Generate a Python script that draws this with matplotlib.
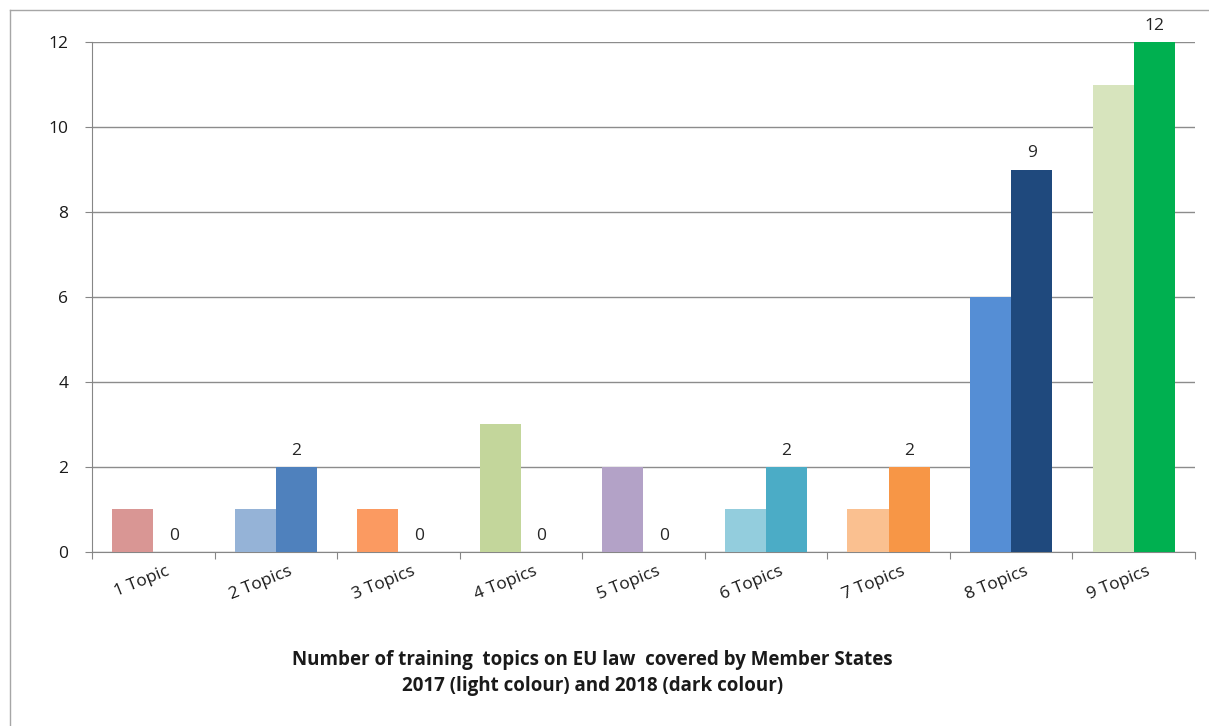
import numpy as np
import matplotlib
matplotlib.use("Agg")
import matplotlib.pyplot as plt
from matplotlib.lines import Line2D
from matplotlib.transforms import ScaledTranslation

plt.rcParams['font.family'] = ['Open Sans', 'DejaVu Sans']

categories = ['1 Topic', '2 Topics', '3 Topics', '4 Topics', '5 Topics',
              '6 Topics', '7 Topics', '8 Topics', '9 Topics']
values_2017 = [1, 1, 1, 3, 2, 1, 1, 6, 11]
values_2018 = [0, 2, 0, 0, 0, 2, 2, 9, 12]
colors_2017 = ['#D99694', '#95B3D7', '#FB9A61', '#C3D69B', '#B3A2C7',
               '#93CDDD', '#FAC090', '#558ED5', '#D7E4BD']
colors_2018 = ['#C0504D', '#4F81BD', '#F79646', '#9BBB59', '#8064A2',
               '#4BACC6', '#F79646', '#1F497D', '#00B050']

fig = plt.figure(figsize=(12.09, 7.26), dpi=100)
ax = fig.add_axes([0.0761, 0.2397, 0.9122, 0.7024])

x = np.arange(len(categories))
w = 0.335
ax.bar(x - w / 2, values_2017, w, color=colors_2017, zorder=3)
bars = ax.bar(x + w / 2, values_2018, w, color=colors_2018, zorder=3)

for b, v in zip(bars, values_2018):
    ax.annotate(str(v), (b.get_x() + b.get_width() / 2, v),
                xytext=(0, 6), textcoords='offset points',
                ha='center', va='bottom', fontsize=12.5, color='#262626',
                annotation_clip=False)

ax.set_xlim(-0.5, len(categories) - 0.5)
ax.set_ylim(0, 12)
ax.set_yticks(range(0, 13, 2))
ax.yaxis.grid(True, color='#8c8c8c', linewidth=1, zorder=0)
ax.set_axisbelow(True)

ax.set_xticks(np.arange(-0.5, len(categories)), minor=False)
ax.set_xticklabels([])
ax.set_xticks(x, minor=True)
ax.set_xticklabels(categories, minor=True, rotation=22, ha='right',
                   rotation_mode='anchor', fontsize=12.5, color='#1a1a1a')
ax.tick_params(axis='x', which='major', length=5, color='#868686', direction='out')
ax.tick_params(axis='x', which='minor', length=0, pad=8)
ax.tick_params(axis='y', length=5, color='#868686', labelsize=12.5,
               labelcolor='#1a1a1a', pad=12)
offset = ScaledTranslation(13 / 100, 0, fig.dpi_scale_trans)
for lab in ax.xaxis.get_minorticklabels():
    lab.set_transform(lab.get_transform() + offset)

for s in ['top', 'right']:
    ax.spines[s].set_visible(False)
ax.spines['left'].set_color('#868686')
ax.spines['bottom'].set_color('#868686')

fig.text(0.49, 0.073, 'Number of training  topics on EU law  covered by Member States\n'
         '2017 (light colour) and 2018 (dark colour)',
         ha='center', va='center', fontsize=13.5, fontweight='bold',
         color='#1a1a1a', linespacing=1.35)

# outer chart frame (left and top edges only visible)
fig.add_artist(Line2D([0.0085, 0.0085], [0, 0.986], color='#a6a6a6', lw=1))
fig.add_artist(Line2D([0.0085, 1], [0.986, 0.986], color='#a6a6a6', lw=1))

fig.savefig('out.png', dpi=100)
